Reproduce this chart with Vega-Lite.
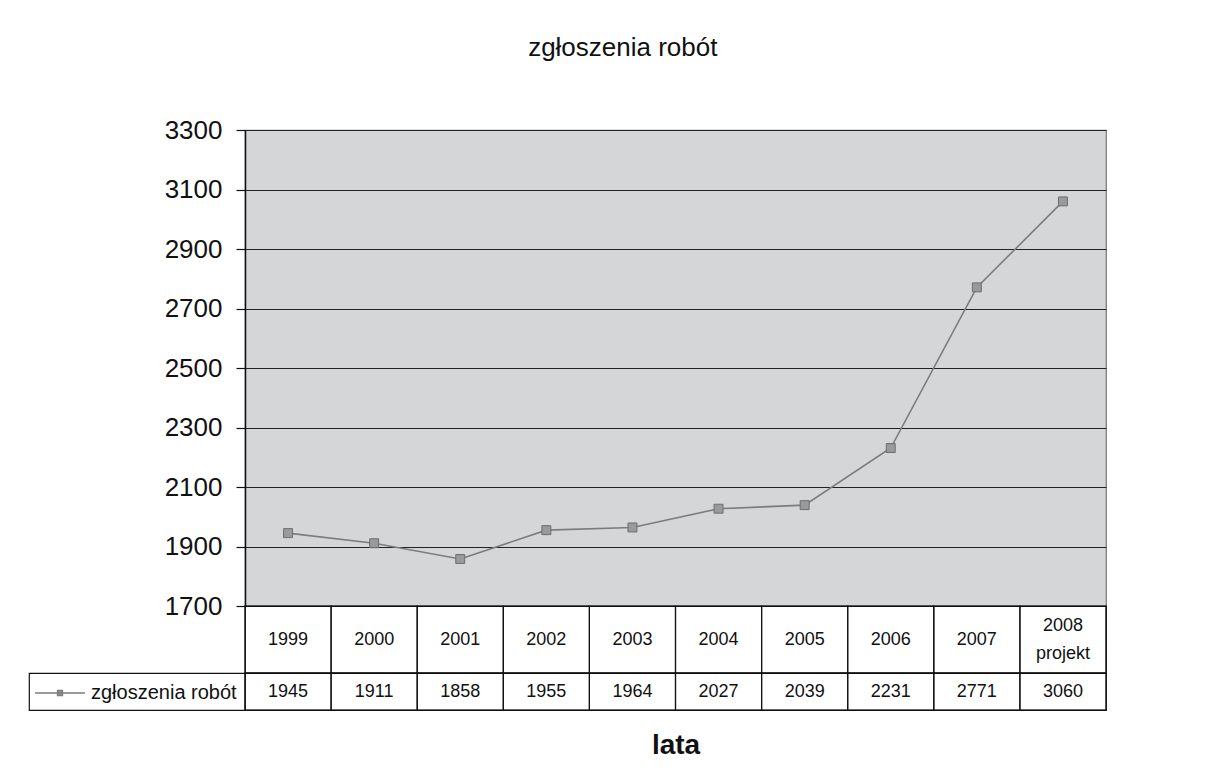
{
  "$schema": "https://vega.github.io/schema/vega-lite/v6.json",
  "background": "white",
  "padding": {"left": 28, "top": 35, "right": 10, "bottom": 10},
  "title": {
    "text": "zgłoszenia robót",
    "fontSize": 26,
    "font": "Liberation Sans",
    "fontWeight": "normal",
    "color": "#111111",
    "anchor": "middle",
    "dx": 55,
    "offset": 55
  },
  "datasets": {
    "dane": [
      {"rok": "1999", "etykieta": "1999", "wartosc": 1945, "seria": "zgłoszenia robót"},
      {"rok": "2000", "etykieta": "2000", "wartosc": 1911, "seria": "zgłoszenia robót"},
      {"rok": "2001", "etykieta": "2001", "wartosc": 1858, "seria": "zgłoszenia robót"},
      {"rok": "2002", "etykieta": "2002", "wartosc": 1955, "seria": "zgłoszenia robót"},
      {"rok": "2003", "etykieta": "2003", "wartosc": 1964, "seria": "zgłoszenia robót"},
      {"rok": "2004", "etykieta": "2004", "wartosc": 2027, "seria": "zgłoszenia robót"},
      {"rok": "2005", "etykieta": "2005", "wartosc": 2039, "seria": "zgłoszenia robót"},
      {"rok": "2006", "etykieta": "2006", "wartosc": 2231, "seria": "zgłoszenia robót"},
      {"rok": "2007", "etykieta": "2007", "wartosc": 2771, "seria": "zgłoszenia robót"},
      {"rok": "2008", "etykieta": "2008 projekt", "wartosc": 3060, "seria": "zgłoszenia robót"}
    ]
  },
  "columns": 2,
  "spacing": 0,
  "bounds": "flush",
  "align": "each",
  "concat": [
    {
      "width": 216, "height": 476,
      "data": {"values": [{}]},
      "mark": {"type": "text", "text": ""},
      "view": {"stroke": null}
    },
    {
      "width": 861, "height": 476,
      "data": {"name": "dane"},
      "view": {"fill": "#d5d6d8", "stroke": "#777777", "strokeWidth": 1.2},
      "encoding": {
        "x": {"field": "rok", "type": "ordinal", "axis": null},
        "y": {
          "field": "wartosc", "type": "quantitative",
          "scale": {"domain": [1700, 3300], "nice": false, "zero": false},
          "axis": {
            "title": null,
            "format": "d",
            "values": [1700, 1900, 2100, 2300, 2500, 2700, 2900, 3100, 3300],
            "grid": true, "gridColor": "#222222", "gridWidth": 1, "gridOpacity": 1,
            "domainColor": "#111111", "domainWidth": 1.5,
            "tickColor": "#111111", "tickSize": 9, "tickWidth": 1.2,
            "labelFont": "Liberation Sans", "labelFontSize": 26, "labelColor": "#111111",
            "labelPadding": 14
          }
        }
      },
      "layer": [
        {
          "mark": {"type": "line", "strokeWidth": 1.6},
          "encoding": {
            "color": {
              "field": "seria", "type": "nominal",
              "scale": {"range": ["#7c7c7c"]},
              "legend": {
                "orient": "none",
                "legendX": 5,
                "legendY": 537,
                "title": null,
                "padding": 0,
                "symbolType": "M-1,0H1M-0.1,-0.1H0.1V0.1H-0.1Z",
                "symbolSize": 2500,
                "symbolStrokeWidth": 1.3,
                "labelFont": "Liberation Sans",
                "labelFontSize": 20,
                "labelColor": "#111111",
                "labelOffset": 5,
                "encode": {
                  "symbols": {
                    "update": {
                      "fill": {"value": "#999999"},
                      "stroke": {"value": "#707070"},
                      "opacity": {"value": 1}
                    }
                  }
                }
              }
            }
          }
        },
        {
          "mark": {"type": "point", "shape": "square", "filled": true, "size": 80, "fill": "#9a9a9a", "stroke": "#6e6e6e", "strokeWidth": 1, "opacity": 1}
        }
      ]
    },
    {
      "width": 216, "height": 67,
      "data": {"values": [{}]},
      "mark": {"type": "text", "text": ""},
      "view": {"stroke": null}
    },
    {
      "width": 861, "height": 67,
      "data": {"name": "dane"},
      "view": {"stroke": "#111111", "strokeWidth": 1.2, "fill": "white"},
      "layer": [
        {
          "mark": {"type": "rect", "filled": false, "color": "#111111", "strokeWidth": 1.2},
          "encoding": {
            "x": {"field": "rok", "type": "ordinal", "axis": null, "scale": {"paddingInner": 0, "paddingOuter": 0}}
          }
        },
        {
          "transform": [{"filter": "datum.rok != '2008'"}],
          "mark": {"type": "text", "font": "Liberation Sans", "fontSize": 18, "color": "#111111"},
          "encoding": {
            "x": {"field": "rok", "type": "ordinal", "axis": null, "bandPosition": 0.5},
            "text": {"field": "etykieta"}
          }
        },
        {
          "transform": [{"filter": "datum.rok == '2008'"}],
          "mark": {"type": "text", "font": "Liberation Sans", "fontSize": 18, "color": "#111111", "lineBreak": " ", "lineHeight": 28, "dy": -14},
          "encoding": {
            "x": {"field": "rok", "type": "ordinal", "axis": null, "bandPosition": 0.5},
            "text": {"field": "etykieta"}
          }
        }
      ]
    },
    {
      "width": 216, "height": 37,
      "data": {"values": [{}]},
      "mark": {"type": "text", "text": ""},
      "view": {"stroke": "#111111", "strokeWidth": 1.2, "fill": "white"}
    },
    {
      "width": 861, "height": 37,
      "data": {"name": "dane"},
      "view": {"stroke": "#111111", "strokeWidth": 1.2, "fill": "white"},
      "layer": [
        {
          "mark": {"type": "rect", "filled": false, "color": "#111111", "strokeWidth": 1.2},
          "encoding": {
            "x": {
              "field": "rok", "type": "ordinal",
              "scale": {"paddingInner": 0, "paddingOuter": 0},
              "axis": {
                "labels": false, "ticks": false, "domain": false,
                "title": "lata", "titleFont": "Liberation Sans", "titleFontSize": 28,
                "titleFontWeight": "bold", "titleColor": "#111111", "titlePadding": 21
              }
            }
          }
        },
        {
          "mark": {"type": "text", "font": "Liberation Sans", "fontSize": 18, "color": "#111111"},
          "encoding": {
            "x": {"field": "rok", "type": "ordinal", "bandPosition": 0.5},
            "text": {"field": "wartosc", "type": "quantitative", "format": "d"}
          }
        }
      ]
    }
  ]
}
